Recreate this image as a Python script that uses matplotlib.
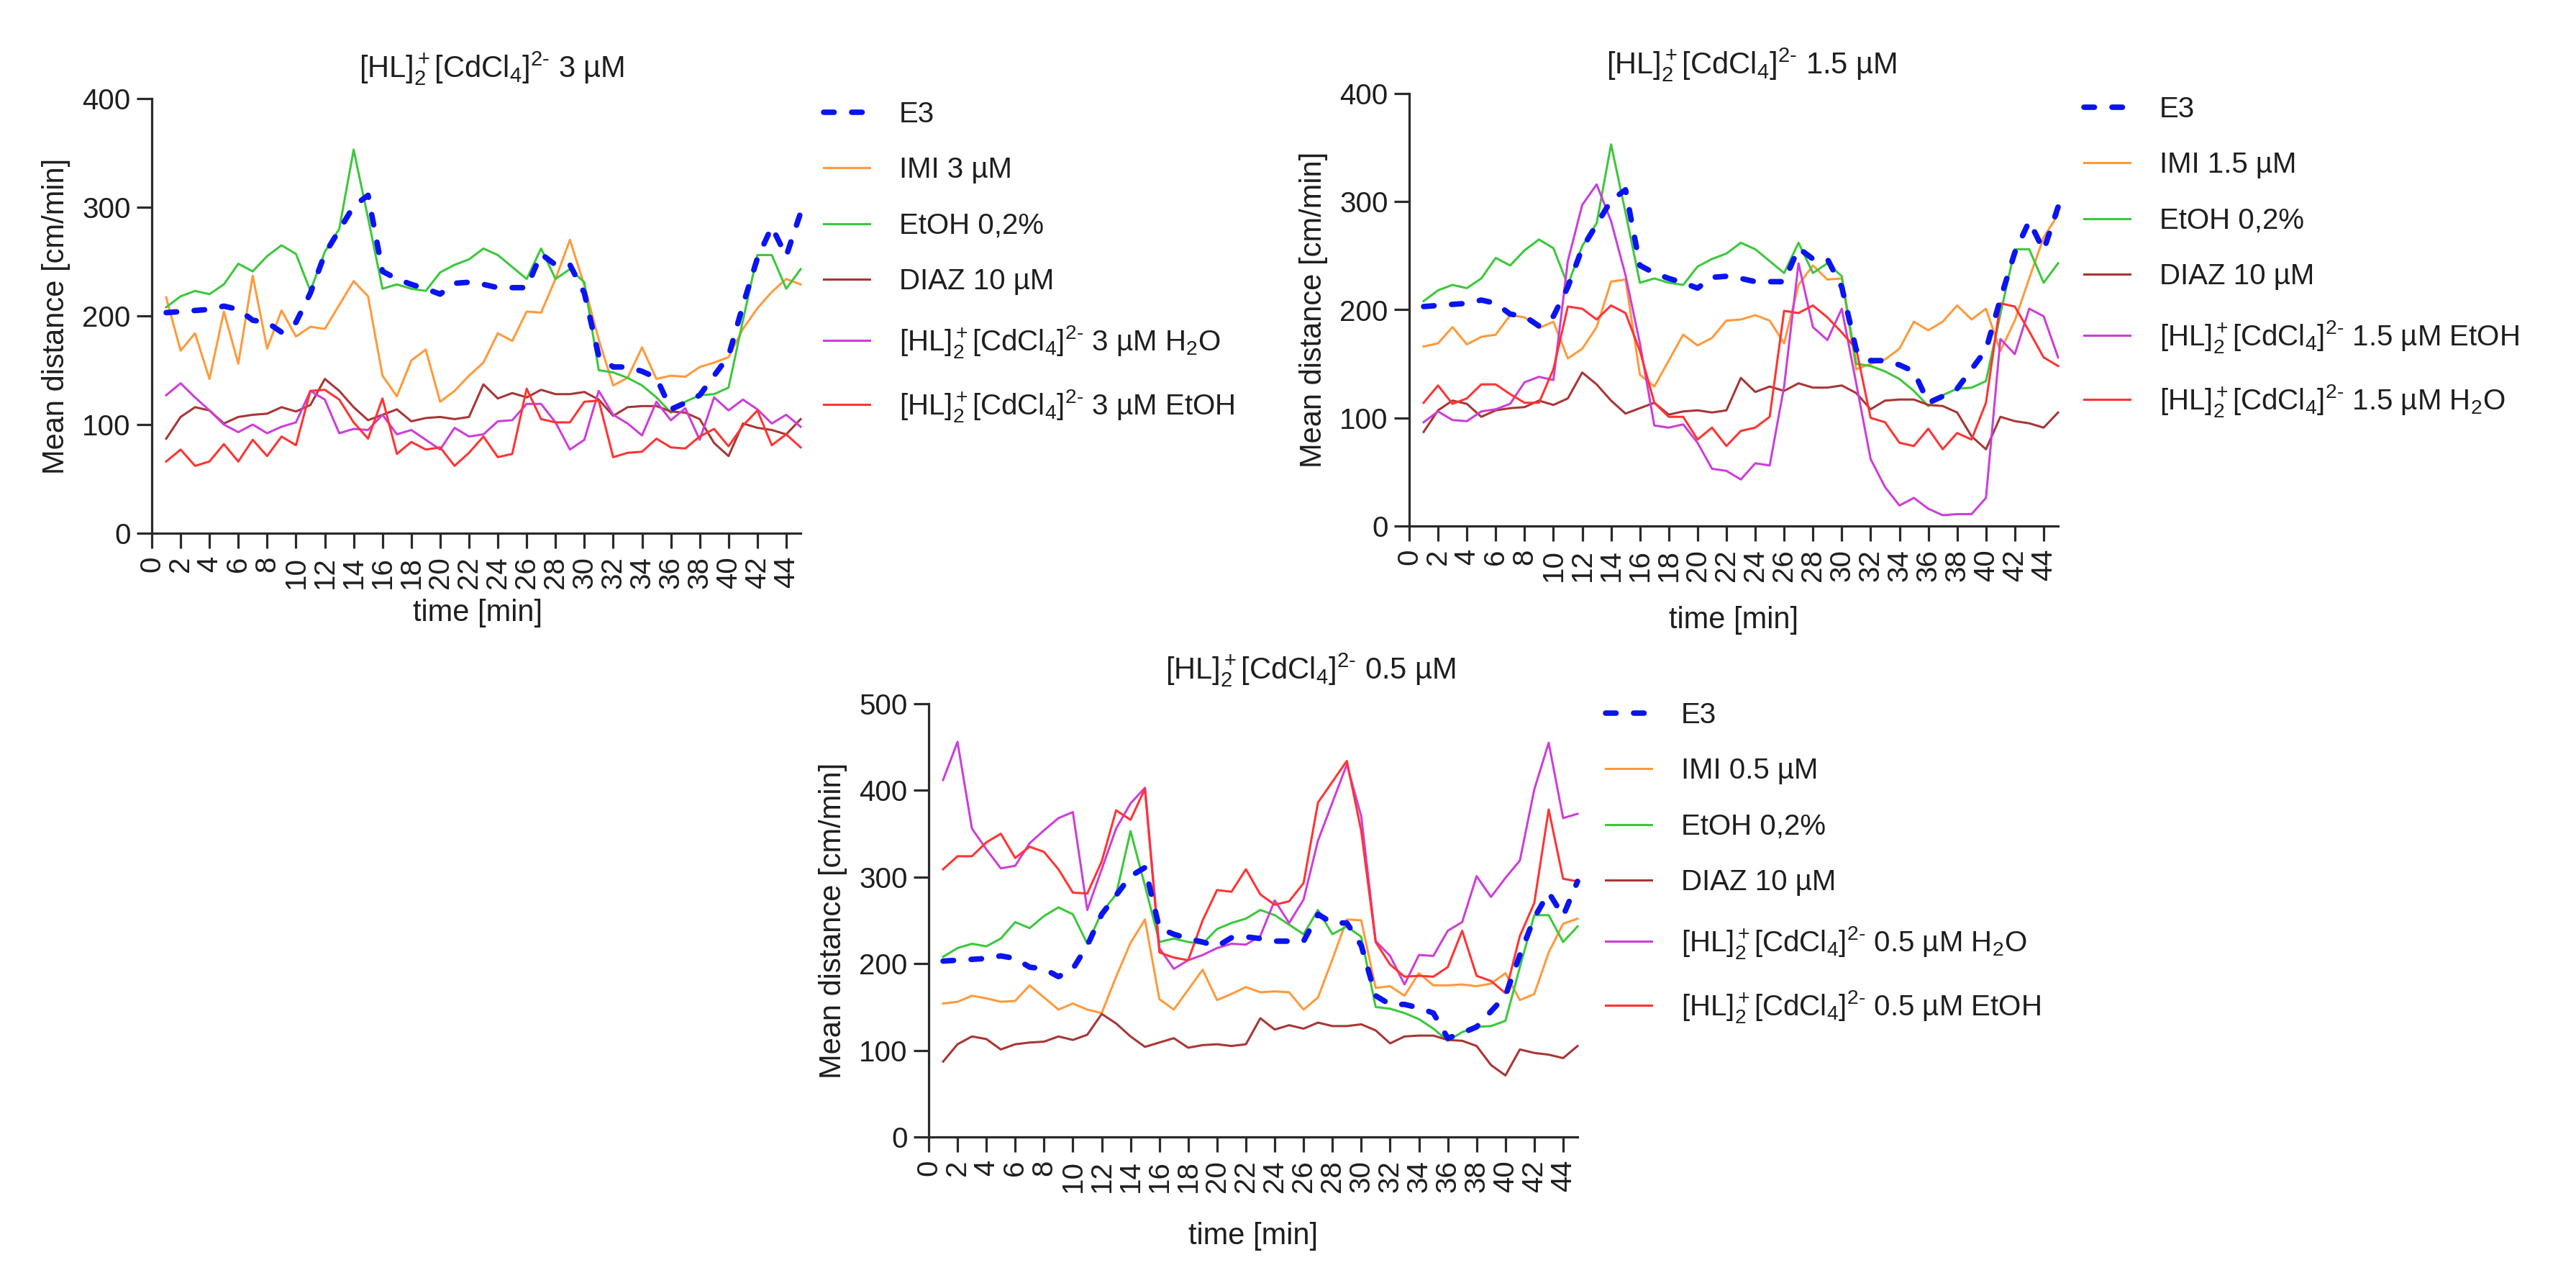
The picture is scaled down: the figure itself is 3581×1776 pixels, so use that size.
import matplotlib
matplotlib.use("Agg")
import matplotlib.pyplot as plt

plt.rcParams['font.family'] = ['Liberation Sans', 'DejaVu Sans']
plt.rcParams['mathtext.fontset'] = 'custom'
plt.rcParams['mathtext.rm'] = 'Liberation Sans'
plt.rcParams['mathtext.it'] = 'Liberation Sans:italic'
plt.rcParams['mathtext.bf'] = 'Liberation Sans:bold'
plt.rcParams['mathtext.default'] = 'regular'

# ---------------- data ----------------
time_min = list(range(1, 46))
x_ticks = list(range(0, 46, 2))

e3 = [203, 204, 205, 206, 209, 206, 196, 194, 185, 194, 221, 257, 279, 301, 311,
      241, 234, 229, 225, 220, 230, 231, 229, 226, 226, 226, 257, 247, 247, 221,
      163, 153, 153, 149, 143, 114, 120, 127, 145, 163, 210, 253, 282, 255, 295]
etoh02 = [208, 218, 223, 220, 229, 248, 241, 255, 265, 257, 223, 259, 280, 353, 290,
          225, 229, 225, 223, 240, 247, 252, 262, 256, 245, 234, 262, 234, 243, 231,
          150, 148, 143, 136, 125, 111, 121, 127, 128, 134, 196, 256, 256, 225, 243]
diaz10 = [87, 107, 116, 113, 101, 107, 109, 110, 116, 112, 118, 142, 131, 116, 104,
          109, 114, 103, 106, 107, 105, 107, 137, 124, 129, 125, 132, 128, 128, 130,
          123, 108, 116, 117, 117, 112, 111, 105, 83, 71, 101, 97, 95, 91, 105]

# panel 1: 3 uM
imi_3 = [217, 168, 184, 142, 204, 156, 237, 170, 205, 181, 190, 188, 210, 232, 218,
         145, 126, 159, 169, 121, 131, 145, 157, 184, 177, 204, 203, 234, 270, 228,
         178, 136, 143, 171, 142, 145, 144, 153, 157, 162, 188, 207, 222, 234, 229]
hl_3_h2o = [127, 138, 125, 113, 100, 93, 100, 92, 98, 102, 131, 123, 92, 96, 95,
            109, 91, 95, 86, 77, 97, 89, 91, 103, 104, 119, 119, 102, 77, 86,
            131, 109, 101, 90, 121, 104, 115, 86, 125, 113, 123, 114, 101, 109, 98]
hl_3_etoh = [66, 77, 62, 66, 82, 66, 86, 71, 89, 81, 131, 132, 123, 102, 87,
             124, 73, 84, 77, 79, 62, 74, 89, 70, 73, 133, 105, 102, 102, 121,
             122, 70, 74, 75, 87, 79, 78, 89, 96, 80, 99, 113, 81, 91, 79]

# panel 2: 1.5 uM
imi_15 = [166, 169, 184, 168, 175, 177, 195, 193, 183, 189, 155, 164, 184, 226, 228,
          140, 129, 153, 177, 167, 174, 190, 191, 195, 190, 169, 223, 241, 228, 229,
          145, 150, 154, 164, 189, 181, 189, 204, 191, 201, 162, 190, 229, 267, 288]
hl_15_etoh = [96, 106, 98, 97, 106, 108, 113, 133, 138, 135, 245, 297, 316, 282, 232,
              169, 93, 91, 94, 77, 53, 51, 43, 58, 56, 129, 243, 184, 172, 201,
              132, 62, 36, 19, 26, 16, 10, 11, 11, 26, 173, 159, 201, 194, 156]
hl_15_h2o = [114, 130, 113, 118, 131, 131, 122, 114, 114, 145, 203, 201, 191, 204, 197,
             162, 114, 101, 101, 80, 91, 74, 88, 91, 101, 199, 197, 204, 193, 179,
             164, 100, 96, 77, 74, 90, 71, 86, 80, 114, 206, 203, 180, 156, 148]

# panel 3: 0.5 uM
imi_05 = [154, 156, 163, 160, 156, 157, 175, 161, 147, 154, 147, 143, 185, 224, 251,
          159, 147, 170, 193, 158, 165, 173, 167, 168, 167, 147, 161, 205, 251, 250,
          172, 174, 163, 189, 175, 175, 176, 174, 177, 189, 158, 165, 213, 246, 252]
hl_05_h2o = [412, 456, 356, 332, 310, 313, 339, 354, 368, 375, 262, 309, 356, 385, 403,
             218, 194, 204, 210, 218, 223, 222, 232, 273, 247, 274, 342, 386, 430, 370,
             226, 209, 176, 210, 209, 238, 248, 301, 277, 299, 319, 401, 455, 368, 373]
hl_05_etoh = [309, 324, 324, 340, 350, 322, 335, 329, 309, 282, 281, 318, 377, 366, 402,
              213, 207, 204, 250, 285, 283, 309, 280, 268, 272, 293, 386, 410, 434, 353,
              225, 199, 185, 186, 185, 196, 238, 186, 180, 166, 232, 270, 378, 298, 295]

HL = r'[HL]$_2^+$[CdCl$_4$]$^{2\text{-}}$'
titles = [HL + ' 3 µM', HL + ' 1.5 µM', HL + ' 0.5 µM']
imi_labels = ['IMI 3 µM', 'IMI 1.5 µM', 'IMI 0.5 µM']
y_max = [400, 400, 500]

# ---------------- styling ----------------
W, H = 3581, 1776
DPI = 100
C_E3 = '#0A14F0'
C_IMI = '#FF9A3C'
C_ETOH = '#3CC83C'
C_DIAZ = '#A83636'
C_MAG = '#CC3FD8'
C_RED = '#FF3434'
TXT = '#1E1E1E'
FS_TICK = 29
FS_LAB = 30
FS_TITLE = 30
FS_LEG = 29

fig = plt.figure(figsize=(W / DPI, H / DPI), dpi=DPI)


def ax_px(left, top, right, bottom):
    return fig.add_axes([left / W, 1 - bottom / H, (right - left) / W, (bottom - top) / H])


panels = [
    dict(box=(211, 137, 1113, 741), title=(683, 95), xlabel=(664, 852), leg=(1145, 140),
         series=[(imi_3, C_IMI, imi_labels[0]),
                 (etoh02, C_ETOH, 'EtOH 0,2%'),
                 (diaz10, C_DIAZ, 'DIAZ 10 µM'),
                 (hl_3_h2o, C_MAG, HL + ' 3 µM H$_2$O'),
                 (hl_3_etoh, C_RED, HL + ' 3 µM EtOH')]),
    dict(box=(1959, 130, 2861, 731), title=(2435, 90), xlabel=(2410, 862), leg=(2897, 133),
         series=[(imi_15, C_IMI, imi_labels[1]),
                 (etoh02, C_ETOH, 'EtOH 0,2%'),
                 (diaz10, C_DIAZ, 'DIAZ 10 µM'),
                 (hl_15_etoh, C_MAG, HL + ' 1.5 µM EtOH'),
                 (hl_15_h2o, C_RED, HL + ' 1.5 µM H$_2$O')]),
    dict(box=(1291, 978, 2193, 1580), title=(1822, 931), xlabel=(1742, 1718), leg=(2232, 975),
         series=[(imi_05, C_IMI, imi_labels[2]),
                 (etoh02, C_ETOH, 'EtOH 0,2%'),
                 (diaz10, C_DIAZ, 'DIAZ 10 µM'),
                 (hl_05_h2o, C_MAG, HL + ' 0.5 µM H$_2$O'),
                 (hl_05_etoh, C_RED, HL + ' 0.5 µM EtOH')]),
]

for i, p in enumerate(panels):
    ax = ax_px(*p['box'])
    lines = []
    for vals, col, lab in p['series']:
        ln, = ax.plot(time_min, vals, color=col, lw=2.2, clip_on=False, zorder=2)
        lines.append((ln, lab))
    e3_line, = ax.plot(time_min, e3, color=C_E3, lw=5.5, dashes=(1.9, 3.2),
                       dash_capstyle='round', clip_on=False, zorder=3)
    handles = [e3_line] + [l for l, _ in lines]
    labels = ['E3'] + [lab for _, lab in lines]

    ax.set_xlim(0, 45)
    ax.set_ylim(0, y_max[i])
    ax.set_xticks(x_ticks)
    ax.set_xticklabels([str(t) for t in x_ticks], rotation=90, va='top', ha='center')
    ax.set_yticks(range(0, y_max[i] + 1, 100))
    for s in ('top', 'right'):
        ax.spines[s].set_visible(False)
    for s in ('left', 'bottom'):
        ax.spines[s].set_linewidth(2.3)
        ax.spines[s].set_color('#2A2A2A')
    ax.tick_params(axis='both', direction='out', length=15, width=2.3,
                   colors='#2A2A2A', labelcolor=TXT, labelsize=FS_TICK)
    ax.tick_params(axis='y', pad=6)
    ax.tick_params(axis='x', pad=8)
    ax.set_ylabel('Mean distance [cm/min]', fontsize=FS_LAB, color=TXT, labelpad=12)

    fig.text(p['xlabel'][0] / W, 1 - p['xlabel'][1] / H, 'time [min]', fontsize=FS_LAB,
             color=TXT, ha='center', va='center')
    fig.text(p['title'][0] / W, 1 - p['title'][1] / H, titles[i], fontsize=FS_TITLE,
             color=TXT, ha='center', va='center')

    ax.legend(handles, labels, loc='upper left',
              bbox_to_anchor=(p['leg'][0] / W, 1 - p['leg'][1] / H),
              bbox_transform=fig.transFigure, frameon=False, borderpad=0,
              borderaxespad=0, handlelength=1.6, handletextpad=1.0,
              labelspacing=0.98, fontsize=FS_LEG, labelcolor=TXT)

fig.savefig('out.png', dpi=DPI)
